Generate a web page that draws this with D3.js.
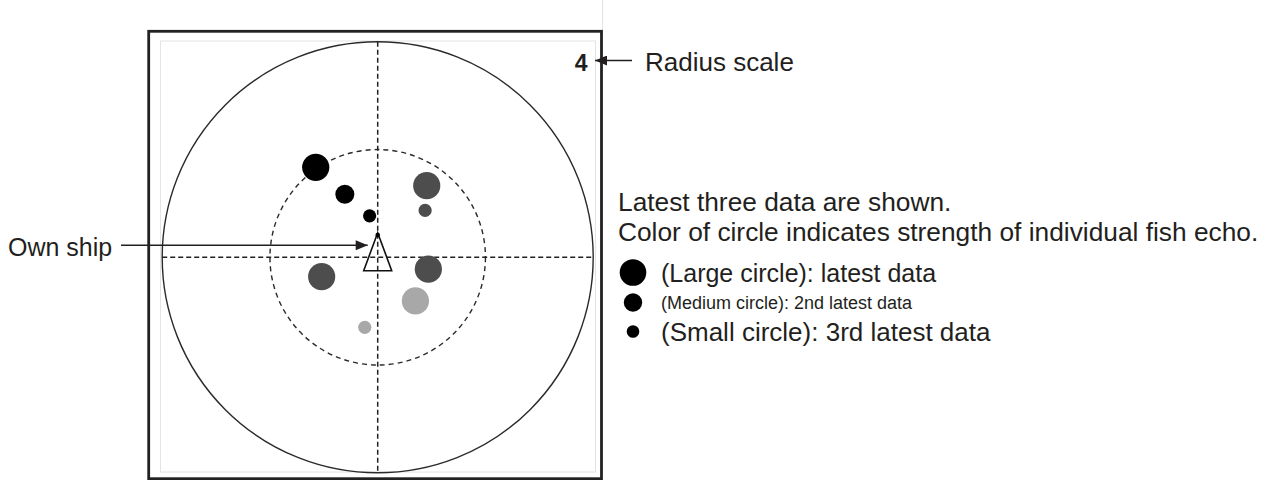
<!DOCTYPE html>
<html>
<head>
<meta charset="utf-8">
<script src="https://cdn.jsdelivr.net/npm/d3@7"></script>
<style>
  body { margin: 0; background: #fff; }
  svg { display: block; font-family: "Liberation Sans", Arial, sans-serif; }
</style>
</head>
<body>
<div id="chart"></div>
<script>
// Echo data, positions in radius-scale units (own ship at 0,0, north up)
const echoX = [-1.15, -0.61, -0.15, 0.91, 0.88, -1.04, 0.94, 0.70, -0.24];
const echoY = [1.67, 1.17, 0.77, 1.33, 0.87, -0.36, -0.22, -0.81, -1.30];
const echoAge = ["latest", "2nd", "3rd", "latest", "3rd", "latest", "latest", "latest", "3rd"];
const echoStrength = ["strong", "strong", "strong", "medium", "medium", "medium", "medium", "weak", "weak"];

const ages = ["latest", "2nd", "3rd"];
const strengths = ["strong", "medium", "weak"];
const radiusScale = 4;
const rings = [2, 4];

const notes = ["Latest three data are shown.", "Color of circle indicates strength of individual fish echo."];
const legendLabels = ["(Large circle): latest data", "(Medium circle): 2nd latest data", "(Small circle): 3rd latest data"];
const ownShipLabel = "Own ship";
const radiusLabel = "Radius scale";

const W = 1274, H = 480;
const cx = 377.7, cy = 257.3, R = 215.5;
const ink = "#231f20";

const svg = d3.select("#chart").append("svg")
  .attr("width", W)
  .attr("height", H);

// arrow marker
svg.append("defs").append("marker")
  .attr("id", "arrow")
  .attr("viewBox", "0 0 12 10")
  .attr("refX", 12)
  .attr("refY", 5)
  .attr("markerUnits", "userSpaceOnUse")
  .attr("markerWidth", 15)
  .attr("markerHeight", 10)
  .attr("orient", "auto")
  .append("path")
  .attr("d", "M0,0 L12,5 L0,10 Z")
  .attr("fill", ink);

// scales
const x = d3.scaleLinear().domain([-radiusScale, radiusScale]).range([cx - R, cx + R]);
const y = d3.scaleLinear().domain([-radiusScale, radiusScale]).range([cy + R, cy - R]);
const size = d3.scaleOrdinal().domain(ages).range([13.6, 9.5, 6.6]);
const color = d3.scaleOrdinal().domain(strengths).range(["#000000", "#4d4d4d", "#a8a8a8"]);

// faint line above the frame
svg.append("line")
  .attr("x1", 602.5).attr("x2", 602.5)
  .attr("y1", 0).attr("y2", 31)
  .attr("stroke", "#e2e2e2")
  .attr("stroke-width", 1);

// display frame
svg.append("rect")
  .attr("x", 148.7).attr("y", 31.3)
  .attr("width", 452.8).attr("height", 447.4)
  .attr("fill", "#fff")
  .attr("stroke", "#222")
  .attr("stroke-width", 2.8);

svg.append("rect")
  .attr("x", 160.5).attr("y", 41)
  .attr("width", 435).attr("height", 431)
  .attr("fill", "none")
  .attr("stroke", "#e4e4e4")
  .attr("stroke-width", 1);

const plot = svg.append("g");

// range rings
plot.selectAll(".ring")
  .data(rings)
  .enter()
  .append("circle")
  .attr("class", "ring")
  .attr("cx", x(0))
  .attr("cy", y(0))
  .attr("r", d => x(d) - x(0))
  .attr("fill", "none")
  .attr("stroke", "#2a2a2a")
  .attr("stroke-width", 1.4)
  .attr("stroke-dasharray", d => d === radiusScale ? null : "5,4");

// cross hairs
plot.append("line")
  .attr("x1", x(-radiusScale)).attr("x2", x(radiusScale))
  .attr("y1", y(0)).attr("y2", y(0))
  .attr("stroke", "#222")
  .attr("stroke-width", 1.5)
  .attr("stroke-dasharray", "5,3");

plot.append("line")
  .attr("x1", x(0)).attr("x2", x(0))
  .attr("y1", y(radiusScale)).attr("y2", y(-radiusScale))
  .attr("stroke", "#222")
  .attr("stroke-width", 1.5)
  .attr("stroke-dasharray", "5,3");

// fish echoes
const echoes = echoX.map((d, i) => ({ x: d, y: echoY[i], age: echoAge[i], strength: echoStrength[i] }));

plot.selectAll(".echo")
  .data(echoes)
  .enter()
  .append("circle")
  .attr("class", "echo")
  .attr("cx", d => x(d.x))
  .attr("cy", d => y(d.y))
  .attr("r", d => size(d.age))
  .attr("fill", d => color(d.strength));

// own ship marker
const sx = x(0), sy = y(0);
plot.append("path")
  .attr("d", `M${sx},${sy - 24.6} L${sx + 14},${sy + 13.4} L${sx - 14},${sy + 13.4} Z`)
  .attr("fill", "none")
  .attr("stroke", "#111")
  .attr("stroke-width", 1.6);

plot.append("circle")
  .attr("cx", sx)
  .attr("cy", sy - 22.3)
  .attr("r", 2.3)
  .attr("fill", "#000");

// own ship callout
svg.append("text")
  .attr("x", 8)
  .attr("y", 255.5)
  .attr("fill", ink)
  .style("font-size", "25px")
  .text(ownShipLabel);

svg.append("line")
  .attr("x1", 121).attr("x2", sx - 10)
  .attr("y1", 245.3).attr("y2", 245.3)
  .attr("stroke", ink)
  .attr("stroke-width", 1.5)
  .attr("marker-end", "url(#arrow)");

// radius scale readout
svg.append("text")
  .attr("x", 587.5)
  .attr("y", 70.5)
  .attr("text-anchor", "end")
  .attr("fill", ink)
  .style("font-size", "23px")
  .style("font-weight", "bold")
  .text(radiusScale);

svg.append("line")
  .attr("x1", 632).attr("x2", 595)
  .attr("y1", 60.5).attr("y2", 60.5)
  .attr("stroke", ink)
  .attr("stroke-width", 1.5)
  .attr("marker-end", "url(#arrow)");

svg.append("text")
  .attr("x", 645)
  .attr("y", 71)
  .attr("fill", ink)
  .style("font-size", "26px")
  .text(radiusLabel);

// notes
svg.selectAll(".note")
  .data(notes)
  .enter()
  .append("text")
  .attr("class", "note")
  .attr("x", 618)
  .attr("y", (d, i) => 211 + i * 30)
  .attr("fill", ink)
  .style("font-size", "26.3px")
  .text(d => d);

// legend
const legend = svg.selectAll(".legend")
  .data(ages)
  .enter()
  .append("g")
  .attr("class", "legend");

const legendRowY = [272.5, 302.5, 331.5];
const legendBase = [281.5, 309.3, 340.5];
const legendFont = [25, 18, 26];

legend.append("circle")
  .attr("cx", 633)
  .attr("cy", (d, i) => legendRowY[i])
  .attr("r", d => size(d) - 0.3)
  .attr("fill", "#000");

legend.append("text")
  .attr("x", 661)
  .attr("y", (d, i) => legendBase[i])
  .attr("fill", ink)
  .style("font-size", (d, i) => legendFont[i] + "px")
  .text((d, i) => legendLabels[i]);
</script>
</body>
</html>
